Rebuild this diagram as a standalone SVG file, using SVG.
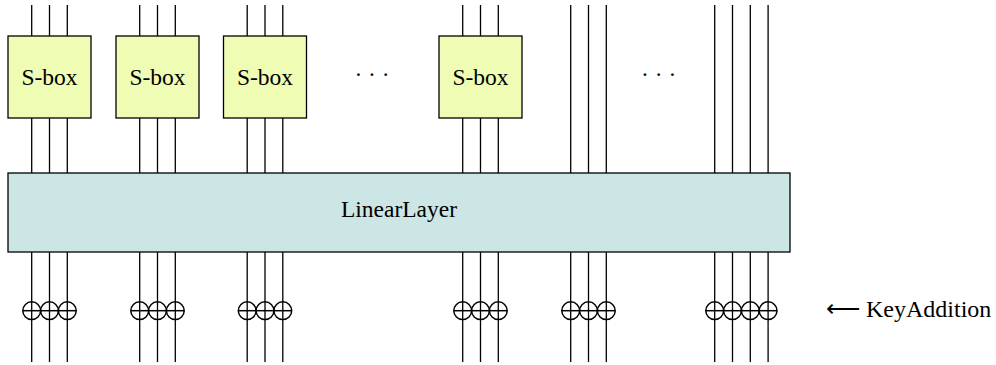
<svg xmlns="http://www.w3.org/2000/svg" width="996" height="365" viewBox="0 0 996 365">
<defs>
<g id="xor" fill="none" stroke="#000" stroke-width="1.5"><circle r="8.9"/><line x1="-8.9" y1="0" x2="8.9" y2="0"/></g>
</defs>
<g id="connectors" stroke="#000" stroke-width="1.3" fill="none">
<path d="M31.7 5V36M49.5 5V36M67.3 5V36M139.7 5V36M157.5 5V36M175.3 5V36M247.2 5V36M265 5V36M282.8 5V36M462.7 5V36M480.5 5V36M498.3 5V36"/>
<path d="M31.7 118V173M49.5 118V173M67.3 118V173M139.7 118V173M157.5 118V173M175.3 118V173M247.2 118V173M265 118V173M282.8 118V173M462.7 118V173M480.5 118V173M498.3 118V173"/>
<path d="M570.7 5V173M588.5 5V173M606.3 5V173M714.7 5V173M732.5 5V173M750.3 5V173M768.1 5V173"/>
<path d="M31.7 252V362M49.5 252V362M67.3 252V362M139.7 252V362M157.5 252V362M175.3 252V362M247.2 252V362M265 252V362M282.8 252V362M462.7 252V362M480.5 252V362M498.3 252V362M570.7 252V362M588.5 252V362M606.3 252V362M714.7 252V362M732.5 252V362M750.3 252V362M768.1 252V362"/>
</g>
<g font-family="Liberation Serif, serif" font-size="23.5px" fill="#000">
<g id="sbox1"><rect fill="#EEFCB4" stroke="#000" stroke-width="1.3" x="8" y="36" width="83" height="82"/><text x="49.5" y="85" text-anchor="middle">S-box</text></g>
<g id="sbox2"><rect fill="#EEFCB4" stroke="#000" stroke-width="1.3" x="116" y="36" width="83" height="82"/><text x="157.5" y="85" text-anchor="middle">S-box</text></g>
<g id="sbox3"><rect fill="#EEFCB4" stroke="#000" stroke-width="1.3" x="223.5" y="36" width="83" height="82"/><text x="265" y="85" text-anchor="middle">S-box</text></g>
<g id="dots1"><text x="372" y="82" text-anchor="middle">· · ·</text></g>
<g id="sbox4"><rect fill="#EEFCB4" stroke="#000" stroke-width="1.3" x="439" y="36" width="83" height="82"/><text x="480.5" y="85" text-anchor="middle">S-box</text></g>
<g id="dots2"><text x="658.7" y="82" text-anchor="middle">· · ·</text></g>
<g id="linearlayer"><rect fill="#CCE6E6" stroke="#000" stroke-width="1.3" x="8" y="173" width="782" height="79"/><text x="399" y="217" text-anchor="middle">LinearLayer</text></g>
<g id="keyaddition">
<use href="#xor" x="31.7" y="310.7"/><use href="#xor" x="49.5" y="310.7"/><use href="#xor" x="67.3" y="310.7"/>
<use href="#xor" x="139.7" y="310.7"/><use href="#xor" x="157.5" y="310.7"/><use href="#xor" x="175.3" y="310.7"/>
<use href="#xor" x="247.2" y="310.7"/><use href="#xor" x="265" y="310.7"/><use href="#xor" x="282.8" y="310.7"/>
<use href="#xor" x="462.7" y="310.7"/><use href="#xor" x="480.5" y="310.7"/><use href="#xor" x="498.3" y="310.7"/>
<use href="#xor" x="570.7" y="310.7"/><use href="#xor" x="588.5" y="310.7"/><use href="#xor" x="606.3" y="310.7"/>
<use href="#xor" x="714.7" y="310.7"/><use href="#xor" x="732.5" y="310.7"/><use href="#xor" x="750.3" y="310.7"/><use href="#xor" x="768.1" y="310.7"/>
<text x="826" y="317" font-size="24px">⟵ KeyAddition</text>
</g>
</g>
</svg>
